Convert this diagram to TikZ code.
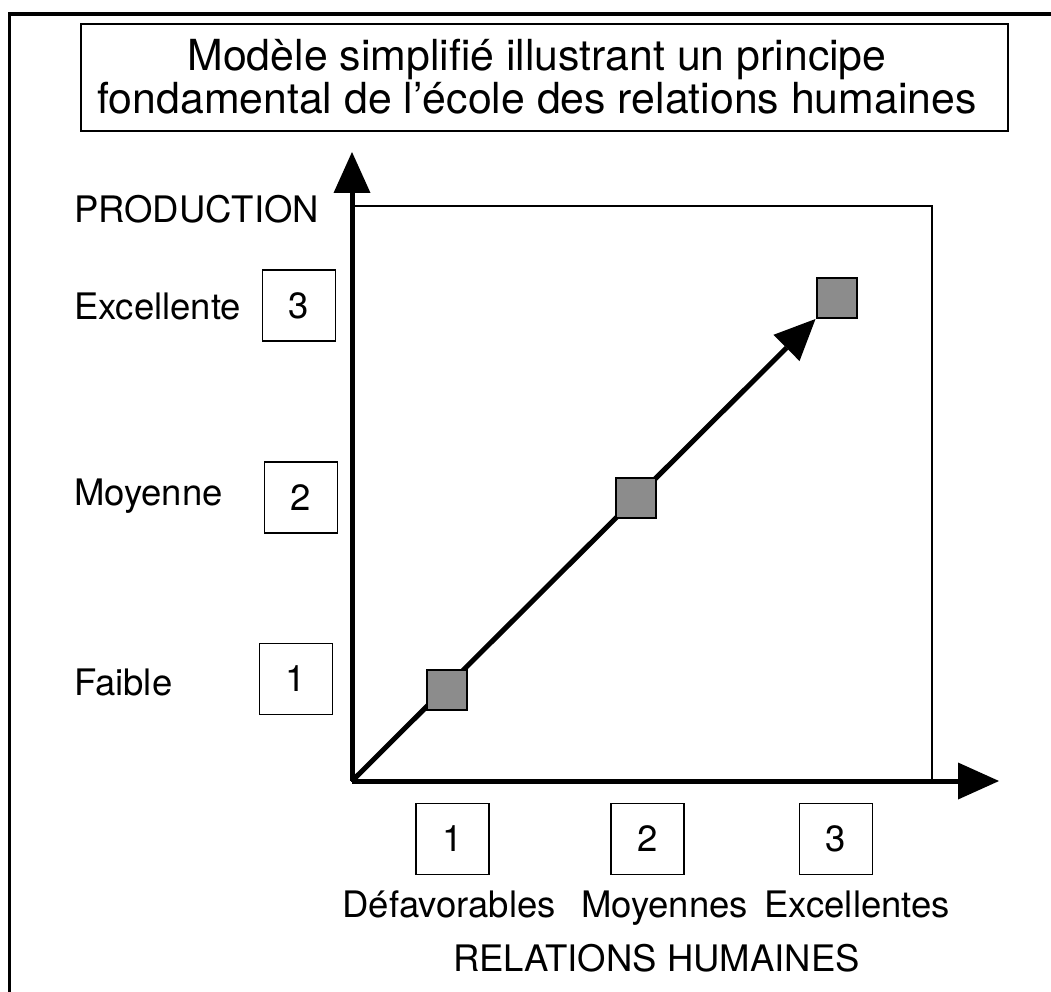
\documentclass[tikz,border=0pt]{standalone}
\usepackage{fontspec}
\setmainfont{TeX Gyre Heros}
\usepackage{tikz}
\usetikzlibrary{arrows.meta}

\tikzset{
	lbl/.style={font=\fontsize{36.5}{43}\selectfont, inner sep=0pt},
	numbox/.style={draw, line width=1.6pt, minimum width=73pt, minimum height=71pt,
		font=\fontsize{36.5}{43}\selectfont, inner sep=0pt},
	sq/.style={draw, line width=2pt, fill=black!45, minimum size=40pt, inner sep=0pt},
	axis/.style={line width=5pt, -{Triangle[length=41pt,width=37pt,line width=0pt]}}
}

\begin{document}
\begin{tikzpicture}[x=1pt,y=-1pt]
	\useasboundingbox (0,0) rectangle (1051,992);
	% open frame
	\draw[line width=3.3pt] (9.7,992) -- (9.7,14) -- (1051,14);
	%
	\node[draw, line width=2pt, minimum width=927pt, minimum height=107pt] (title) at (544.2,77.5) {};
	\node[align=center, font=\fontsize{42.8}{43}\selectfont, inner sep=0pt] (titletext) at (537,77)
		{Modèle simplifié illustrant un principe\\fondamental de l’école des relations humaines};
	%
	\coordinate (O) at (352,781);
	\coordinate (ytip) at (352,152);
	\coordinate (xtip) at (999,781);
	\draw[line width=1.6pt] (O) rectangle (932,206);
	\draw[axis] (O) -- (ytip);
	\draw[axis] (O) -- (xtip);
	%
	\node[sq] (s1) at (447,690) {};
	\node[sq] (s2) at (636,498) {};
	\node[sq] (s3) at (836.5,298) {};
	\draw[axis] (O) -- (s3.south west);
	\node[sq] at (s1) {};
	\node[sq] at (s2) {};
	%
	\node[lbl, anchor=base west] (prod) at (74,223) {PRODUCTION};
	\node[lbl, anchor=base west] (exc) at (74,319) {Excellente};
	\node[lbl, anchor=base west] (moy) at (74,505) {Moyenne};
	\node[lbl, anchor=base west] (fai) at (74,695) {Faible};
	\node[numbox] (y3) at (299,305.5) {3};
	\node[numbox] (y2) at (301,497.5) {2};
	\node[numbox] (y1) at (296,679) {1};
	%
	\node[numbox] (x1) at (452.5,839) {1};
	\node[numbox] (x2) at (647.5,839) {2};
	\node[numbox] (x3) at (836,839) {3};
	\node[lbl, anchor=base east] (def) at (556,917) {Défavorables};
	\node[lbl, anchor=base east] (moys) at (748,917) {Moyennes};
	\node[lbl, anchor=base east] (excs) at (950,917) {Excellentes};
	\node[lbl, anchor=base east] (rh) at (860,971) {RELATIONS HUMAINES};
\end{tikzpicture}
\end{document}
